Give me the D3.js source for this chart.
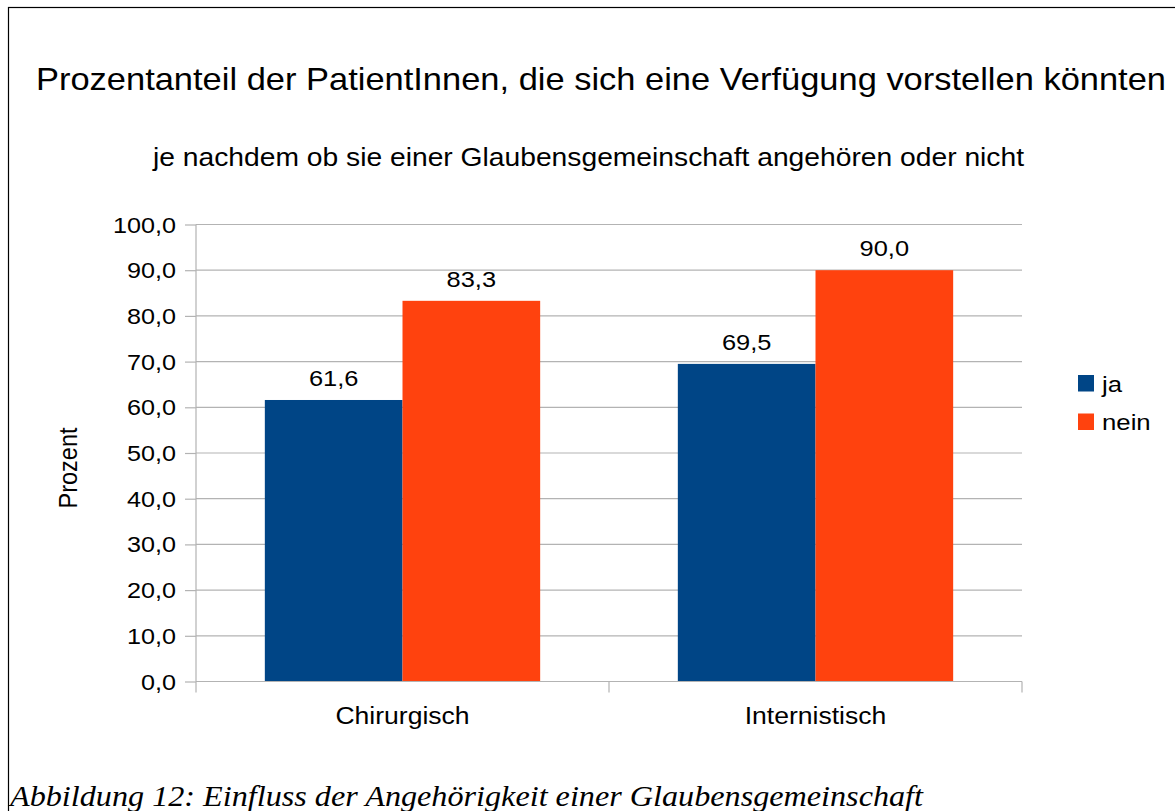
<!DOCTYPE html>
<html lang="de">
<head>
    <meta charset="UTF-8">
    <title>Prozentanteil der PatientInnen</title>
    <script src="https://d3js.org/d3.v7.min.js"></script>
    <style>
        body { margin: 0; background: #fff; }
        text { font-family: "Liberation Sans", Arial, sans-serif; fill: #000; }
    </style>
</head>
<body>

<div id="chart"></div>

<script>
    var categories = ["Chirurgisch", "Internistisch"];
    var seriesNames = ["ja", "nein"];
    var jaValues = [61.6, 69.5];
    var neinValues = [83.3, 90.0];
    var yTicks = [0, 10, 20, 30, 40, 50, 60, 70, 80, 90, 100];
    var colors = ["#004586", "#ff420e"];

    var W = 1175, H = 811;
    var S = 1.13; // the source picture is a bit wider than tall, so the text is stretched sideways
    var margin = {top: 224.5, right: 153, bottom: 129.5, left: 196};
    var width = W - margin.left - margin.right,
        height = H - margin.top - margin.bottom;

    var fmt = function(v) { return d3.format(".1f")(v).replace(".", ","); };
    var place = function(x, y) { return "translate(" + x + "," + y + ") scale(" + S + ",1)"; };

    var root = d3.select("#chart").append("svg")
        .attr("width", W)
        .attr("height", H);

    // outer frame (right and bottom edges run off the page)
    root.append("rect")
        .attr("x", 8.5).attr("y", 7.5)
        .attr("width", W + 10).attr("height", H + 10)
        .attr("fill", "none")
        .attr("stroke", "#000")
        .attr("stroke-width", 1.2);

    root.append("text")
        .attr("transform", place(601, 90))
        .attr("text-anchor", "middle")
        .style("font-size", "30.5px")
        .text("Prozentanteil der PatientInnen, die sich eine Verfügung vorstellen könnten");

    root.append("text")
        .attr("transform", place(588.5, 165.5))
        .attr("text-anchor", "middle")
        .style("font-size", "25px")
        .text("je nachdem ob sie einer Glaubensgemeinschaft angehören oder nicht");

    var svg = root.append("g")
        .attr("transform", "translate(" + margin.left + "," + margin.top + ")");

    var x0 = d3.scaleBand()
        .domain(categories)
        .range([0, width])
        .paddingInner(1 / 3)
        .paddingOuter(1 / 6);

    var x1 = d3.scaleBand()
        .domain(seriesNames)
        .range([0, x0.bandwidth()]);

    var y = d3.scaleLinear()
        .domain([0, 100])
        .range([height, 0]);

    // gridlines
    svg.append("g")
        .selectAll("line")
        .data(yTicks)
        .join("line")
        .attr("x1", 0).attr("x2", width)
        .attr("y1", function(d) { return y(d); })
        .attr("y2", function(d) { return y(d); })
        .attr("stroke", "#b3b3b3")
        .attr("stroke-width", 1.2);

    // Y axis: line and ticks from d3, labels drawn stretched
    var yAxis = svg.append("g")
        .call(d3.axisLeft(y).tickValues(yTicks).tickFormat("").tickSize(11));
    yAxis.select(".domain").attr("stroke", "#b3b3b3").attr("stroke-width", 1.2)
        .attr("d", "M0," + height + "V0");
    yAxis.selectAll(".tick line").attr("stroke", "#b3b3b3").attr("stroke-width", 1.2);
    yAxis.selectAll(".tick text").remove();

    svg.append("g")
        .selectAll("text")
        .data(yTicks)
        .join("text")
        .attr("transform", function(d) { return place(-20, y(d)); })
        .attr("dy", "0.36em")
        .attr("text-anchor", "end")
        .style("font-size", "22.3px")
        .text(fmt);

    // bars
    var data = categories.map(function(c, i) {
        return {cat: c, values: [jaValues[i], neinValues[i]]};
    });

    var groups = svg.append("g")
        .selectAll("g")
        .data(data)
        .join("g")
        .attr("transform", function(d) { return "translate(" + x0(d.cat) + ",0)"; });

    groups.selectAll("rect")
        .data(function(d) { return d.values.map(function(v, j) { return {s: seriesNames[j], v: v, j: j}; }); })
        .join("rect")
        .attr("x", function(d) { return x1(d.s); })
        .attr("y", function(d) { return y(d.v); })
        .attr("width", x1.bandwidth())
        .attr("height", function(d) { return height - y(d.v); })
        .attr("fill", function(d) { return colors[d.j]; });

    groups.selectAll("text")
        .data(function(d) { return d.values.map(function(v, j) { return {s: seriesNames[j], v: v}; }); })
        .join("text")
        .attr("transform", function(d) { return place(x1(d.s) + x1.bandwidth() / 2, y(d.v) - 14.3); })
        .attr("text-anchor", "middle")
        .style("font-size", "22.5px")
        .text(function(d) { return fmt(d.v); });

    // X axis with ticks at the category boundaries
    var xAxis = svg.append("g")
        .attr("transform", "translate(0," + height + ")");
    xAxis.append("line")
        .attr("x1", 0).attr("x2", width)
        .attr("stroke", "#b3b3b3").attr("stroke-width", 1.2);
    xAxis.selectAll("line.tk")
        .data([0, width / 2, width])
        .join("line")
        .attr("class", "tk")
        .attr("x1", function(d) { return d; }).attr("x2", function(d) { return d; })
        .attr("y1", 0).attr("y2", 11)
        .attr("stroke", "#b3b3b3").attr("stroke-width", 1.2);
    xAxis.selectAll("text")
        .data(categories)
        .join("text")
        .attr("transform", function(d) { return place(x0(d) + x0.bandwidth() / 2, 42.5); })
        .attr("text-anchor", "middle")
        .style("font-size", "23.5px")
        .text(function(d) { return d; });

    // Y axis title
    root.append("text")
        .attr("transform", place(76.5, 468) + " rotate(-90)")
        .attr("text-anchor", "middle")
        .style("font-size", "23.5px")
        .text("Prozent");

    // legend
    var legend = root.append("g")
        .attr("transform", "translate(1078,375)");
    var li = legend.selectAll("g")
        .data(seriesNames)
        .join("g")
        .attr("transform", function(d, i) { return "translate(0," + (i * 38.5) + ")"; });
    li.append("rect")
        .attr("width", 16).attr("height", 16.5)
        .attr("fill", function(d, i) { return colors[i]; });
    li.append("text")
        .attr("transform", place(24, 16.5))
        .style("font-size", "22.8px")
        .text(function(d) { return d; });

    // caption below the chart, cut by the bottom edge as in the source
    root.append("text")
        .attr("transform", place(10, 806))
        .style("font-family", "'Liberation Serif', 'Times New Roman', serif")
        .style("font-style", "italic")
        .style("font-size", "28.5px")
        .text("Abbildung 12: Einfluss der Angehörigkeit einer Glaubensgemeinschaft");
</script>

</body>
</html>
